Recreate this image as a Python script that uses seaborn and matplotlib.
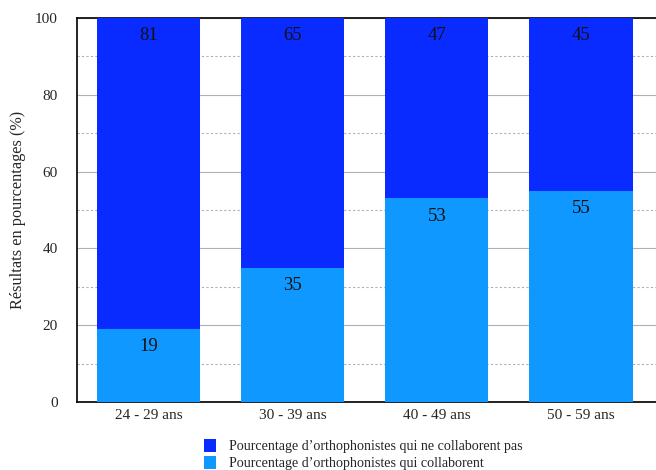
import matplotlib
matplotlib.use("Agg")
import matplotlib.pyplot as plt
from matplotlib.patches import Patch
from matplotlib.ticker import MultipleLocator
import seaborn as sns
import pandas as pd

age_groups = ["24 - 29 ans", "30 - 39 ans", "40 - 49 ans", "50 - 59 ans"]
collaborent = [19, 35, 53, 55]
ne_collaborent_pas = [81, 65, 47, 45]
series_labels = [
    "Pourcentage d\u2019orthophonistes qui ne collaborent pas",
    "Pourcentage d\u2019orthophonistes qui collaborent",
]

dark_blue = "#0a2bff"
light_blue = "#0f98ff"

sns.set_style("white")
plt.rcParams["font.family"] = ["Liberation Serif", "DejaVu Serif"]

df = pd.DataFrame({
    "age": age_groups,
    "collab": collaborent,
    "non_collab": ne_collaborent_pas,
})
df["total"] = df["collab"] + df["non_collab"]

fig = plt.figure(figsize=(6.56, 4.70), dpi=100)
ax = fig.add_axes([0.1174, 0.1447, 0.8826, 0.817])

# stacked bars: full height in dark blue, lower segment in light blue
sns.barplot(data=df, x="age", y="total", color=dark_blue, saturation=1,
            width=0.715, linewidth=0, ax=ax, zorder=3)
sns.barplot(data=df, x="age", y="collab", color=light_blue, saturation=1,
            width=0.715, linewidth=0, ax=ax, zorder=4)

for i, row in df.iterrows():
    ax.annotate(f"{row['non_collab']}", (i, row["total"]), xytext=(0, -6.5),
                textcoords="offset points", ha="center", va="top",
                fontsize=13.5, color="#111111", zorder=5)
    ax.annotate(f"{row['collab']}", (i, row["collab"]), xytext=(0, -6.5),
                textcoords="offset points", ha="center", va="top",
                fontsize=13.5, color="#111111", zorder=5)

ax.set_ylim(0, 100)
ax.set_xlim(-0.495, 3.52)
ax.yaxis.set_major_locator(MultipleLocator(20))
ax.yaxis.set_minor_locator(MultipleLocator(10))
ax.grid(axis="y", which="major", color="#b0b0b0", linewidth=0.8, zorder=0)
ax.grid(axis="y", which="minor", color="#b0b0b0", linewidth=0.8,
        linestyle=(0, (2, 2)), zorder=0)
ax.set_axisbelow(True)

for side in ["left", "bottom", "top"]:
    ax.spines[side].set_color("#111111")
    ax.spines[side].set_linewidth(1.3)
ax.spines["right"].set_visible(False)

ax.tick_params(axis="y", which="both", length=0, pad=14, labelsize=11)
ax.tick_params(axis="x", length=0, pad=5, labelsize=11)
ax.set_xlabel("")
ax.set_ylabel("R\u00e9sultats en pourcentages (%)", fontsize=11.7, labelpad=6)

handles = [Patch(facecolor=dark_blue, edgecolor="none"),
           Patch(facecolor=light_blue, edgecolor="none")]
fig.legend(handles, series_labels, loc="lower left",
           bbox_to_anchor=(0.302, -0.012), frameon=False, fontsize=10.1,
           handlelength=0.9, handleheight=1.1, handletextpad=0.9,
           labelspacing=0.15, borderaxespad=0)

fig.savefig("out.png", dpi=100)
